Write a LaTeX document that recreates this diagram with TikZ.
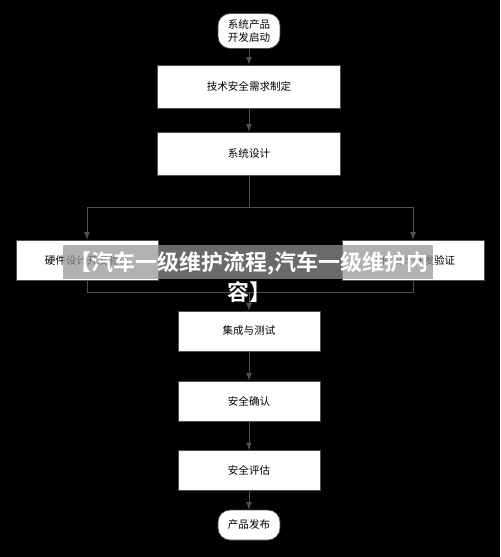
\documentclass[tikz,border=0pt]{standalone}
\usepackage{fontspec}
\setmainfont{Noto Sans CJK SC}
\newfontfamily\bannerfont{Noto Sans CJK SC Bold}
\usetikzlibrary{positioning}
\definecolor{linegray}{HTML}{505050}
\definecolor{bandgray}{rgb}{0.58,0.58,0.58}
\tikzset{
>=latex, % small filled arrow heads
flow/.style={->, draw=linegray, line width=0.5pt}, % connectors with a head
link/.style={draw=linegray, line width=0.5pt}, % connectors without a head
stagebox/.style={draw=linegray, fill=white, minimum width=3.66cm, minimum height=0.86cm, font=\fontsize{6}{7}\selectfont}, % wide steps
sidebox/.style={stagebox, minimum width=2.84cm, minimum height=0.8cm}, % narrow steps
terminal/.style={draw=linegray, fill=white, rounded corners=0.24cm, minimum width=1.24cm, minimum height=0.64cm, align=center, font=\fontsize{6}{7.6}\selectfont}, % start and end
}
\begin{document}
\begin{tikzpicture}[x=0.02cm, y=-0.02cm]
    \fill[black] (0,0) rectangle (500,557);
    \useasboundingbox (0,0) rectangle (500,557);

    \node[terminal] (start) at (249,31) {系统产品\\开发启动};
    \node[stagebox] (req) at (249,86.5) {技术安全需求制定};
    \node[stagebox] (design) at (249,153.5) {系统设计};
    \node[sidebox] (hw) at (87,260) {硬件设计开发验证};
    \node[sidebox] (sw) at (413,260) {软件设计开发验证};
    \node[sidebox] (integ) at (249,331) {集成与测试};
    \node[sidebox] (confirm) at (249,401) {安全确认};
    \node[sidebox] (assess) at (249,470.5) {安全评估};
    \node[terminal, minimum height=0.6cm] (release) at (249,525) {产品发布};

    \coordinate (split) at (249,207);
    \coordinate (join) at (249,292);

    \draw[flow] (start) -- (req);
    \draw[flow] (req) -- (design);
    \draw[flow] (design) -- (split) -| (hw.north);
    \draw[flow] (split) -| (sw.north);
    \draw[link] (hw.south) |- (join);
    \draw[link] (sw.south) |- (join);
    \draw[flow] (join) -- (integ);
    \draw[flow] (integ) -- (confirm);
    \draw[flow] (confirm) -- (assess);
    \draw[flow] (assess) -- (release);

    % title band laid over the chart
    \fill[bandgray, fill opacity=0.72] (63,245) rectangle (433,279);
    \node[text=white, align=center, font=\bannerfont\fontsize{12.5}{17}\selectfont] (banner) at (249,277) {【汽车一级维护流程,汽车一级维护内\\容】};
\end{tikzpicture}
\end{document}
